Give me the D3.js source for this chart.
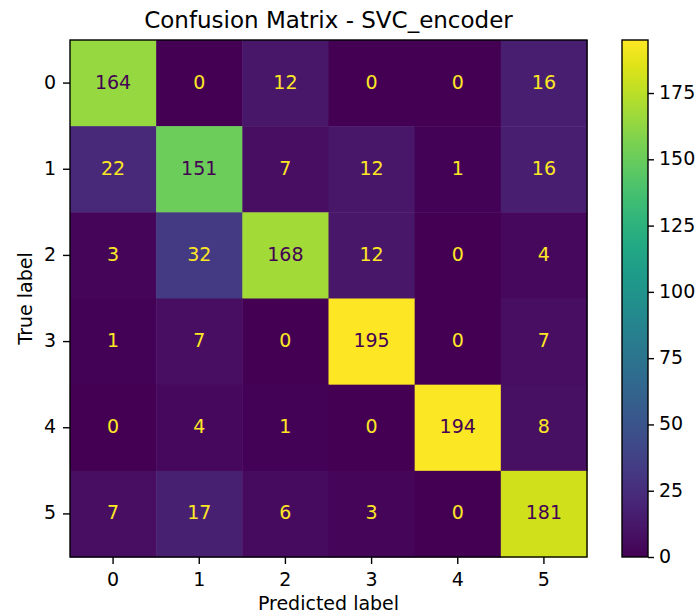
<!DOCTYPE html>
<meta charset="utf-8">
<html>

<head>
    <title>Confusion Matrix - SVC_encoder</title>
    <style>
        body { margin: 0; background: #fff; }
        text { font-family: "DejaVu Sans", sans-serif; }
    </style>
</head>

<body>
    <div id="container"></div>

    <script src="https://d3js.org/d3.v7.min.js"></script>

    <script>
        // class labels (same for true and predicted)
        const labels = ["0", "1", "2", "3", "4", "5"];

        // confusion matrix rows (true label) x columns (predicted label)
        const row0 = [164, 0, 12, 0, 0, 16];
        const row1 = [22, 151, 7, 12, 1, 16];
        const row2 = [3, 32, 168, 12, 0, 4];
        const row3 = [1, 7, 0, 195, 0, 7];
        const row4 = [0, 4, 1, 0, 194, 8];
        const row5 = [7, 17, 6, 3, 0, 181];
        const matrix = [row0, row1, row2, row3, row4, row5];

        const colorbarTicks = [0, 25, 50, 75, 100, 125, 150, 175];

        const width = 696,
            height = 616;

        // plot area
        const plotLeft = 70, plotTop = 40, size = 517;
        const cbLeft = 622, cbWidth = 26;
        const fs = 19; // ~10pt at this figure's dpi

        const cells = [];
        matrix.forEach((row, i) => row.forEach((v, j) => cells.push({ t: labels[i], p: labels[j], v: v })));

        const vmin = d3.min(cells, d => d.v),
            vmax = d3.max(cells, d => d.v);

        const x = d3.scaleBand().domain(labels).range([plotLeft, plotLeft + size]);
        const y = d3.scaleBand().domain(labels).range([plotTop, plotTop + size]);
        const color = d3.scaleSequential(d3.interpolateViridis).domain([vmin, vmax]);
        const cbScale = d3.scaleLinear().domain([vmin, vmax]).range([plotTop + size, plotTop]);

        const svg = d3.select("#container").append("svg")
            .attr("width", width)
            .attr("height", height);

        // cells
        svg.append("g")
            .selectAll("rect")
            .data(cells)
            .join("rect")
            .attr("x", d => x(d.p))
            .attr("y", d => y(d.t))
            .attr("width", x.bandwidth() + 0.5)
            .attr("height", y.bandwidth() + 0.5)
            .attr("fill", d => color(d.v));

        // cell values, dark text on bright cells
        const thresh = (vmin + vmax) / 2;
        svg.append("g")
            .selectAll("text")
            .data(cells)
            .join("text")
            .attr("x", d => x(d.p) + x.bandwidth() / 2)
            .attr("y", d => y(d.t) + y.bandwidth() / 2)
            .attr("text-anchor", "middle")
            .attr("dy", "0.29em")
            .attr("font-size", fs)
            .attr("fill", d => d.v > thresh ? color(vmin) : color(vmax))
            .text(d => d.v);

        // frame
        svg.append("rect")
            .attr("x", plotLeft).attr("y", plotTop)
            .attr("width", size).attr("height", size)
            .attr("fill", "none").attr("stroke", "#000").attr("stroke-width", 1.4);

        // axes
        const xAxis = svg.append("g")
            .attr("transform", `translate(0,${plotTop + size})`)
            .call(d3.axisBottom(x).tickSize(7).tickPadding(9));
        const yAxis = svg.append("g")
            .attr("transform", `translate(${plotLeft},0)`)
            .call(d3.axisLeft(y).tickSize(7).tickPadding(7));
        [xAxis, yAxis].forEach(a => {
            a.select(".domain").remove();
            a.selectAll("text").attr("font-size", fs).attr("font-family", "DejaVu Sans").attr("fill", "#000");
            a.selectAll("line").attr("stroke", "#000").attr("stroke-width", 1.4);
        });
        yAxis.selectAll("text").attr("dy", "0.29em");

        // axis titles
        svg.append("text")
            .attr("x", plotLeft + size / 2).attr("y", 610)
            .attr("text-anchor", "middle").attr("font-size", fs)
            .text("Predicted label");
        svg.append("text")
            .attr("transform", `translate(32,${plotTop + size / 2}) rotate(-90)`)
            .attr("text-anchor", "middle").attr("font-size", fs)
            .text("True label");

        // title
        svg.append("text")
            .attr("x", plotLeft + size / 2).attr("y", 28)
            .attr("text-anchor", "middle").attr("font-size", 23)
            .text("Confusion Matrix - SVC_encoder");

        // colorbar
        const grad = svg.append("defs").append("linearGradient")
            .attr("id", "cb").attr("x1", 0).attr("y1", 1).attr("x2", 0).attr("y2", 0);
        d3.range(0, 1.0001, 0.05).forEach(t => {
            grad.append("stop").attr("offset", t).attr("stop-color", d3.interpolateViridis(t));
        });
        svg.append("rect")
            .attr("x", cbLeft).attr("y", plotTop)
            .attr("width", cbWidth).attr("height", size)
            .attr("fill", "url(#cb)")
            .attr("stroke", "#000").attr("stroke-width", 1.4);

        const cbAxis = svg.append("g")
            .attr("transform", `translate(${cbLeft + cbWidth},0)`)
            .call(d3.axisRight(cbScale).tickValues(colorbarTicks).tickSize(6).tickPadding(5));
        cbAxis.select(".domain").remove();
        cbAxis.selectAll("text").attr("font-size", fs).attr("font-family", "DejaVu Sans").attr("fill", "#000").attr("dy", "0.29em");
        cbAxis.selectAll("line").attr("stroke", "#000").attr("stroke-width", 1.4);
    </script>
</body>

</html>
